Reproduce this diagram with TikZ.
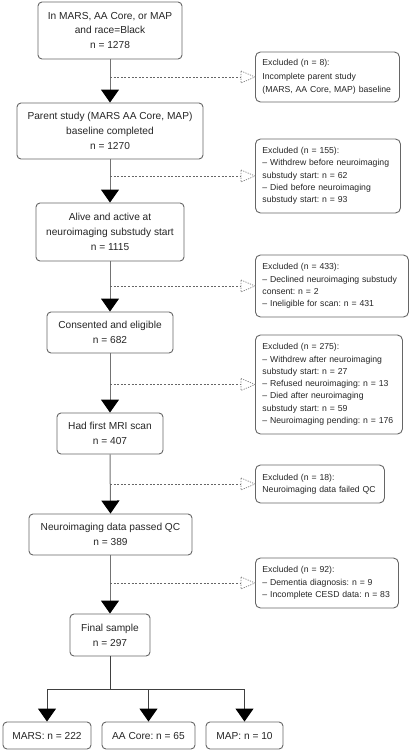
\documentclass[tikz,border=0pt]{standalone}
\usepackage{fontspec}
\setmainfont{Liberation Sans}
\usetikzlibrary{arrows.meta}
\frenchspacing
\newcommand\myexfont{\fontsize{8.7}{12.3}\selectfont\hyphenpenalty=10000\relax}
\newcommand\myexfontb{\fontsize{8.7}{13.3}\selectfont\hyphenpenalty=10000\relax}
\begin{document}
\begin{tikzpicture}[x=1bp,y=-1bp]
\tikzset{
 mainbox/.style={draw=black!60, line width=0.9bp, rounded corners=4bp, align=center,
   font=\fontsize{10.2}{15}\selectfont, text=black!85, inner sep=0pt},
 exbox/.style={draw=black!60, line width=0.9bp, rounded corners=5bp, align=left,
   font=\myexfont, text=black!85, inner xsep=7bp, inner ysep=0pt, anchor=west},
 flow/.style={draw=black!55, line width=1bp, -{Triangle[width=18bp,length=13bp,color=black]}},
 exline/.style={draw=black!60, line width=0.8bp, dash pattern=on 2bp off 1.6bp},
 extip/.style={draw=black!50, line width=0.7bp, dash pattern=on 1.2bp off 1.2bp},
}
\useasboundingbox (0,0) rectangle (410,752);
\fill[white] (0,0) rectangle (410,752);

% main column
\node[mainbox, minimum width=144bp, minimum height=57bp] (b1) at (110,30.5) {In MARS, AA Core, or MAP\\and race=Black\\n = 1278};
\node[mainbox, minimum width=186bp, minimum height=56bp] (b2) at (110,131) {Parent study (MARS AA Core, MAP)\\baseline completed\\n = 1270};
\node[mainbox, minimum width=148bp, minimum height=58bp] (b3) at (110,232) {Alive and active at\\neuroimaging substudy start\\n = 1115};
\node[mainbox, minimum width=126bp, minimum height=41bp] (b4) at (110,332.5) {Consented and eligible\\n = 682};
\node[mainbox, minimum width=106bp, minimum height=41bp] (b5) at (110,433.5) {Had first MRI scan\\n = 407};
\node[mainbox, minimum width=163bp, minimum height=41bp] (b6) at (110.5,534.5) {Neuroimaging data passed QC\\n = 389};
\node[mainbox, minimum width=80bp, minimum height=42bp] (b7) at (110,635) {Final sample\\n = 297};

\node[mainbox, minimum width=88bp, minimum height=27bp] (mars) at (47,735.5) {MARS: n = 222};
\node[mainbox, minimum width=93bp, minimum height=27bp] (aa) at (148.5,735.5) {AA Core: n = 65};
\node[mainbox, minimum width=77bp, minimum height=27bp] (map) at (244.5,735.5) {MAP: n = 10};

% exclusion boxes
\node[exbox, text width=130bp, minimum height=50bp, font=\myexfontb] (e1) at (255,77) {Excluded (n = 8):\\Incomplete parent study\\(MARS, AA Core, MAP) baseline};
\node[exbox, text width=131bp, minimum height=74bp] (e2) at (255,176) {Excluded (n = 155):\\– Withdrew before neuroimaging\\substudy start: n = 62\\– Died before neuroimaging\\substudy start: n = 93};
\node[exbox, text width=139bp, minimum height=62bp] (e3) at (255,286) {Excluded (n = 433):\\– Declined neuroimaging substudy\\consent: n = 2\\– Ineligible for scan: n = 431};
\node[exbox, text width=133bp, minimum height=99bp] (e4) at (255,384.5) {Excluded (n = 275):\\– Withdrew after neuroimaging\\substudy start: n = 27\\– Refused neuroimaging: n = 13\\– Died after neuroimaging\\substudy start: n = 59\\– Neuroimaging pending: n = 176};
\node[exbox, text width=115bp, minimum height=38bp] (e5) at (255,484) {Excluded (n = 18):\\Neuroimaging data failed QC};
\node[exbox, text width=129bp, minimum height=50bp] (e6) at (255,583) {Excluded (n = 92):\\– Dementia diagnosis: n = 9\\– Incomplete CESD data: n = 83};

% main flow
\draw[flow] (b1.south) -- (b2.north);
\draw[flow] (b2.south) -- (b3.north);
\draw[flow] (b3.south) -- (b4.north);
\draw[flow] (b4.south) -- (b5.north);
\draw[flow] (b5.south) -- (b6.north);
\draw[flow] (b6.south -| b7.north) -- (b7.north);

% exclusion connectors
\foreach \e/\b in {e1/b1,e2/b2,e3/b3,e4/b4,e5/b5,e6/b7}{
  \coordinate (s\e) at (\b.north |- \e.west);
  \draw[exline] (s\e) -- ([xshift=-14bp]\e.west);
  \draw[extip] ([xshift=-14bp,yshift=6bp]\e.west) -- (\e.west) -- ([xshift=-14bp,yshift=-6bp]\e.west) -- cycle;
}

% split
\coordinate (split) at ([yshift=-33bp]b7.south);
\draw[draw=black!75, line width=1bp] (b7.south) -- (split);
\draw[flow, draw=black!75] (split) -| (mars.north);
\draw[flow, draw=black!75] (split) -| (aa.north);
\draw[flow, draw=black!75] (split) -| (map.north);
\end{tikzpicture}
\end{document}
